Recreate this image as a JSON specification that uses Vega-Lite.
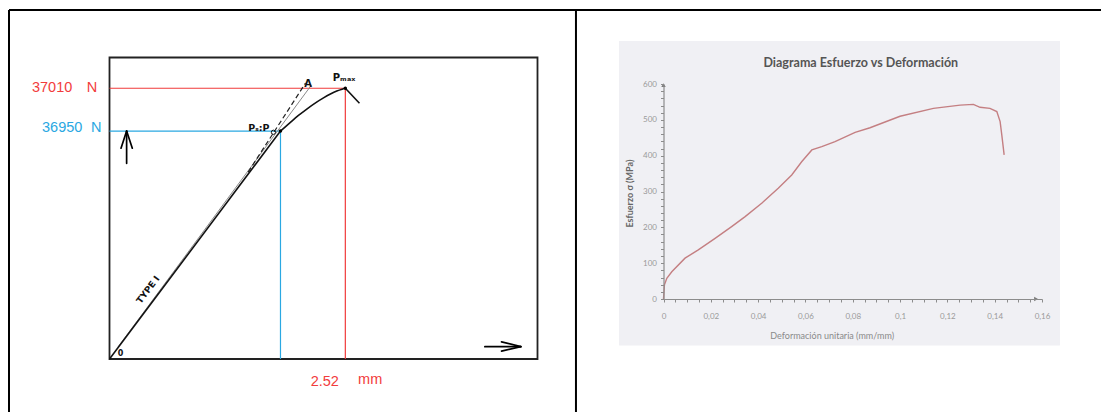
{
  "$schema": "https://vega.github.io/schema/vega-lite/v6.json",
  "width": 1101,
  "height": 412,
  "autosize": {"type": "none"},
  "padding": 0,
  "background": "white",
  "config": {"view": {"stroke": null}},
  "resolve": {"scale": {"x": "independent", "y": "independent"}},
  "layer": [
    {
      "encoding": {
        "x": {"field": "x", "type": "quantitative", "scale": {"domain": [0, 1], "range": [9, 1101], "nice": false, "zero": false}, "axis": null},
        "y": {"field": "y", "type": "quantitative", "scale": {"domain": [0, 1], "range": [10, 412], "nice": false, "zero": false}, "axis": null}
      },
      "layer": [
        {
          "data": {"values": [
            {"x": 0, "y": 0, "x2": 1, "y2": 0},
            {"x": 0, "y": 0, "x2": 0, "y2": 1},
            {"x": 0.5192, "y": 0, "x2": 0.5192, "y2": 1}
          ]},
          "mark": {"type": "rule", "color": "#000000", "strokeWidth": 2},
          "encoding": {"x2": {"field": "x2"}, "y2": {"field": "y2"}}
        }
      ]
    },
    {
      "encoding": {
        "x": {"field": "x", "type": "quantitative", "scale": {"domain": [0, 100], "range": [109.5, 537.5], "nice": false, "zero": false}, "axis": null},
        "y": {"field": "y", "type": "quantitative", "scale": {"domain": [0, 100], "range": [359, 57.5], "nice": false, "zero": false}, "axis": null}
      },
      "layer": [
        {
          "data": {"values": [{"x": 0, "y": 0, "x2": 100, "y2": 100}]},
          "mark": {"type": "rect", "filled": false, "color": "#222222", "strokeWidth": 1.8},
          "encoding": {"x2": {"field": "x2"}, "y2": {"field": "y2"}}
        },
        {
          "data": {"values": [
            {"x": 0, "y": 89.8, "x2": 55.1, "y2": 89.8},
            {"x": 55.1, "y": 89.8, "x2": 55.1, "y2": 0}
          ]},
          "mark": {"type": "rule", "color": "#f03a3a", "strokeWidth": 1.2},
          "encoding": {"x2": {"field": "x2"}, "y2": {"field": "y2"}}
        },
        {
          "data": {"values": [
            {"x": 0, "y": 75.6, "x2": 39.95, "y2": 75.6},
            {"x": 39.95, "y": 75.6, "x2": 39.95, "y2": 0}
          ]},
          "mark": {"type": "rule", "color": "#2aa8e2", "strokeWidth": 1.2},
          "encoding": {"x2": {"field": "x2"}, "y2": {"field": "y2"}}
        },
        {
          "data": {"values": [{"x": 2.0, "y": 4.0, "x2": 47.2, "y2": 90.9}]},
          "mark": {"type": "rule", "color": "#8a8a8a", "strokeWidth": 1},
          "encoding": {"x2": {"field": "x2"}, "y2": {"field": "y2"}}
        },
        {
          "data": {"values": [{"x": 32.4, "y": 62.0, "x2": 45.8, "y2": 91.5}]},
          "mark": {"type": "rule", "color": "#222222", "strokeWidth": 1.2, "strokeDash": [5, 3]},
          "encoding": {"x2": {"field": "x2"}, "y2": {"field": "y2"}}
        },
        {
          "data": {"values": [
            {"x": 39.95, "y": 75.6},
            {"x": 42.2, "y": 78.4},
            {"x": 44.0, "y": 80.6},
            {"x": 46.1, "y": 82.9},
            {"x": 48.4, "y": 85.2},
            {"x": 50.0, "y": 86.6},
            {"x": 51.5, "y": 87.8},
            {"x": 53.1, "y": 88.9},
            {"x": 54.6, "y": 89.6},
            {"x": 55.1, "y": 89.8}
          ]},
          "mark": {"type": "line", "color": "#111111", "strokeWidth": 1.6, "interpolate": "monotone"}
        },
        {
          "data": {"values": [
            {"x": 0, "y": 0, "x2": 39.95, "y2": 75.6},
            {"x": 55.1, "y": 89.8, "x2": 58.4, "y2": 84.8}
          ]},
          "mark": {"type": "rule", "color": "#111111", "strokeWidth": 1.6},
          "encoding": {"x2": {"field": "x2"}, "y2": {"field": "y2"}}
        },
        {
          "data": {"values": [
            {"x": 4.0, "y": 64.9, "x2": 4.0, "y2": 75.6},
            {"x": 4.0, "y": 75.6, "x2": 2.69, "y2": 69.9},
            {"x": 4.0, "y": 75.6, "x2": 5.33, "y2": 69.9},
            {"x": 87.7, "y": 4.1, "x2": 96.1, "y2": 4.1},
            {"x": 96.1, "y": 4.1, "x2": 91.6, "y2": 5.7},
            {"x": 96.1, "y": 4.1, "x2": 91.6, "y2": 2.6}
          ]},
          "mark": {"type": "rule", "color": "#000000", "strokeWidth": 1.7, "strokeCap": "round"},
          "encoding": {"x2": {"field": "x2"}, "y2": {"field": "y2"}}
        },
        {
          "data": {"values": [{"x": 55.1, "y": 89.8}, {"x": 39.95, "y": 75.6}]},
          "mark": {"type": "point", "filled": true, "color": "#000000", "size": 12, "opacity": 1}
        },
        {
          "data": {"values": [{"x": 38.3, "y": 75.2}]},
          "mark": {"type": "point", "filled": false, "color": "#111111", "size": 18, "strokeWidth": 1, "opacity": 1}
        },
        {
          "data": {"values": [
            {"x": 46.4, "y": 91.3, "label": "A"},
            {"x": 54.8, "y": 93.2, "label": "Pₘₐₓ"}
          ]},
          "mark": {"type": "text", "font": "DejaVu Sans", "fontSize": 10, "fontWeight": "bold", "color": "#111111", "baseline": "middle", "align": "center"},
          "encoding": {"text": {"field": "label"}}
        },
        {
          "data": {"values": [{"x": 37.4, "y": 76.6, "label": "Pₛ:P"}]},
          "mark": {"type": "text", "font": "DejaVu Sans", "fontSize": 9.5, "fontWeight": "bold", "color": "#111111", "baseline": "middle", "align": "right"},
          "encoding": {"text": {"field": "label"}}
        },
        {
          "data": {"values": [{"x": 9.0, "y": 23.0, "label": "TYPE I"}]},
          "mark": {"type": "text", "font": "DejaVu Sans", "fontSize": 9, "fontWeight": "bold", "color": "#111111", "baseline": "middle", "align": "center", "angle": 307},
          "encoding": {"text": {"field": "label"}}
        },
        {
          "data": {"values": [{"x": 2.6, "y": 1.7, "label": "0"}]},
          "mark": {"type": "text", "font": "DejaVu Sans", "fontSize": 8, "fontWeight": "bold", "color": "#111111", "baseline": "middle", "align": "center"},
          "encoding": {"text": {"field": "label"}}
        },
        {
          "data": {"values": [
            {"x": -13.4, "y": 89.8, "label": "37010"},
            {"x": -4.1, "y": 89.8, "label": "N"},
            {"x": 50.3, "y": -7.6, "label": "2.52"},
            {"x": 60.9, "y": -7.0, "label": "mm"}
          ]},
          "mark": {"type": "text", "font": "Liberation Sans", "fontSize": 14.5, "color": "#f23c3c", "baseline": "middle", "align": "center"},
          "encoding": {"text": {"field": "label"}}
        },
        {
          "data": {"values": [
            {"x": -11.05, "y": 76.5, "label": "36950"},
            {"x": -3.1, "y": 76.5, "label": "N"}
          ]},
          "mark": {"type": "text", "font": "Liberation Sans", "fontSize": 14.5, "color": "#2aa8e2", "baseline": "middle", "align": "center"},
          "encoding": {"text": {"field": "label"}}
        }
      ]
    },
    {
      "encoding": {
        "x": {
          "field": "x", "type": "quantitative",
          "scale": {"domain": [0, 0.16], "range": [663.5, 1042], "nice": false, "zero": false},
          "axis": {
            "values": [0, 0.005, 0.01, 0.015, 0.02, 0.025, 0.03, 0.035, 0.04, 0.045, 0.05, 0.055, 0.06, 0.065, 0.07, 0.075, 0.08, 0.085, 0.09, 0.095, 0.1, 0.105, 0.11, 0.115, 0.12, 0.125, 0.13, 0.135, 0.14, 0.145, 0.15, 0.155, 0.16],
            "labelExpr": "round(datum.value*1000) % 20 == 0 ? replace(format(datum.value, '.2~f'), '.', ',') : ''",
            "offset": -113,
            "grid": false,
            "zindex": 1,
            "domainColor": "#8c8c8c",
            "domainWidth": 1.2,
            "tickColor": "#8c8c8c",
            "tickSize": 3,
            "labelColor": "#9a9a9a",
            "labelFont": "Lato",
            "labelFontSize": 8,
            "labelPadding": 10,
            "labelOverlap": false,
            "labelFlush": false,
            "title": "Deformación unitaria (mm/mm)",
            "titleFont": "Lato",
            "titleFontSize": 9,
            "titleFontWeight": "normal",
            "titleColor": "#8a8a8a",
            "titleX": 831.7,
            "titleY": 36,
            "titleAlign": "center",
            "titleBaseline": "middle"
          }
        },
        "y": {
          "field": "y", "type": "quantitative",
          "scale": {"domain": [0, 600], "range": [299, 84], "nice": false, "zero": false},
          "axis": {
            "values": [0, 20, 40, 60, 80, 100, 120, 140, 160, 180, 200, 220, 240, 260, 280, 300, 320, 340, 360, 380, 400, 420, 440, 460, 480, 500, 520, 540, 560, 580, 600],
            "labelExpr": "datum.value % 100 == 0 ? datum.label : ''",
            "offset": -663.5,
            "grid": false,
            "zindex": 1,
            "domainColor": "#8c8c8c",
            "domainWidth": 1.2,
            "tickColor": "#8c8c8c",
            "tickSize": 3,
            "labelColor": "#9a9a9a",
            "labelFont": "Lato",
            "labelFontSize": 8,
            "labelPadding": 4,
            "labelOverlap": false,
            "labelFlush": false,
            "title": "Esfuerzo σ (MPa)",
            "titleFont": "Lato",
            "titleFontSize": 9,
            "titleFontWeight": "bold",
            "titleColor": "#666666",
            "titleAngle": 270,
            "titleX": -34.5,
            "titleY": 193,
            "titleAlign": "center",
            "titleBaseline": "middle"
          }
        }
      },
      "layer": [
        {
          "data": {"values": [{"x": -0.0188, "x2": 0.1676, "y": -130, "y2": 720}]},
          "mark": {"type": "rect", "color": "#f0f0f4"},
          "encoding": {"x2": {"field": "x2"}, "y2": {"field": "y2"}}
        },
        {
          "data": {"values": [
            {"x": 0, "y": 0},
            {"x": 0.0004, "y": 40},
            {"x": 0.0014, "y": 58},
            {"x": 0.0035, "y": 76},
            {"x": 0.0091, "y": 114},
            {"x": 0.0147, "y": 137},
            {"x": 0.0218, "y": 169},
            {"x": 0.0288, "y": 202},
            {"x": 0.0345, "y": 230},
            {"x": 0.0415, "y": 267},
            {"x": 0.0485, "y": 309},
            {"x": 0.0542, "y": 346},
            {"x": 0.0584, "y": 383},
            {"x": 0.0627, "y": 416},
            {"x": 0.0669, "y": 425},
            {"x": 0.0725, "y": 439},
            {"x": 0.081, "y": 465},
            {"x": 0.0873, "y": 478},
            {"x": 0.1, "y": 510},
            {"x": 0.1141, "y": 532},
            {"x": 0.1254, "y": 541},
            {"x": 0.131, "y": 543},
            {"x": 0.1338, "y": 535},
            {"x": 0.138, "y": 532},
            {"x": 0.1409, "y": 523},
            {"x": 0.1423, "y": 495},
            {"x": 0.143, "y": 458},
            {"x": 0.144, "y": 402}
          ]},
          "mark": {"type": "line", "color": "#c47f82", "strokeWidth": 1.4}
        },
        {
          "data": {"values": [{"x": 0, "y": 597}]},
          "mark": {"type": "point", "shape": "triangle-up", "filled": true, "color": "#7a7a7a", "size": 20, "opacity": 1}
        },
        {
          "data": {"values": [{"x": 0.1575, "y": 0}]},
          "mark": {"type": "point", "shape": "triangle-right", "filled": true, "color": "#7a7a7a", "size": 20, "opacity": 1}
        },
        {
          "data": {"values": [{"x": 0.0834, "y": 660, "label": "Diagrama Esfuerzo vs Deformación"}]},
          "mark": {"type": "text", "font": "Lato", "fontSize": 12.5, "fontWeight": "bold", "color": "#555555", "baseline": "middle", "align": "center"},
          "encoding": {"text": {"field": "label"}}
        }
      ]
    }
  ]
}
